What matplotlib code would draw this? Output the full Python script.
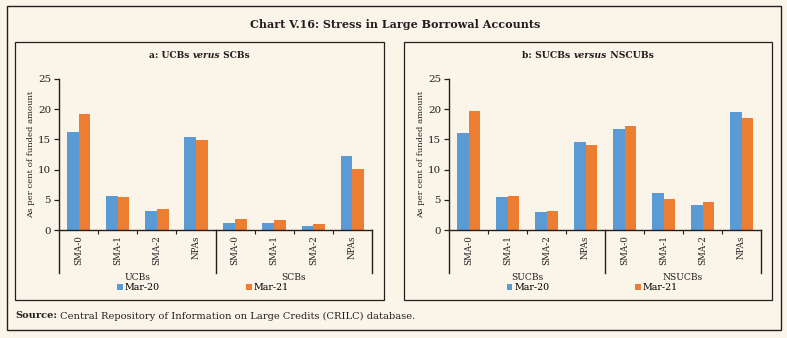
import matplotlib
matplotlib.use("Agg")
import matplotlib.pyplot as plt
import matplotlib.patches as mpatches
import matplotlib.transforms as mtransforms
import numpy as np

# ---------------- data ----------------
categories = ["SMA-0", "SMA-1", "SMA-2", "NPAs"]
series_names = ["Mar-20", "Mar-21"]

groups_a = ["UCBs", "SCBs"]
ucbs_mar20 = [16.2, 5.6, 3.2, 15.4]
ucbs_mar21 = [19.2, 5.5, 3.4, 14.9]
scbs_mar20 = [1.2, 1.1, 0.7, 12.2]
scbs_mar21 = [1.9, 1.6, 1.0, 10.1]

groups_b = ["SUCBs", "NSUCBs"]
sucbs_mar20 = [16.1, 5.5, 3.0, 14.5]
sucbs_mar21 = [19.7, 5.6, 3.1, 14.1]
nsucbs_mar20 = [16.7, 6.2, 4.2, 19.6]
nsucbs_mar21 = [17.3, 5.1, 4.6, 18.5]

yticks = [0, 5, 10, 15, 20, 25]

# ---------------- style ----------------
BG = "#FBF4E8"
BLUE = "#5B9BD5"
ORANGE = "#ED7D31"
INK = "#231f20"
FONT = "DejaVu Serif"
plt.rcParams["font.family"] = FONT

W, H = 787, 338
fig = plt.figure(figsize=(W / 100, H / 100), dpi=100, facecolor=BG)


def fx(x):
    return x / W


def fy(y):
    return 1 - y / H


def rect(x0, y0, x1, y1, lw=1.0):
    fig.add_artist(mpatches.Rectangle((fx(x0), fy(y1)), fx(x1) - fx(x0), fy(y0) - fy(y1),
                                      transform=fig.transFigure, fill=False,
                                      edgecolor=INK, linewidth=lw))


rect(7, 6, 781, 330, lw=1.0)
rect(15, 42, 384, 300, lw=0.9)
rect(404, 42, 772, 300, lw=0.9)

fig.text(fx(395), fy(24), "Chart V.16: Stress in Large Borrowal Accounts",
         ha="center", va="center", fontsize=8.0, fontweight="bold", color=INK)


def rich_text(x_center, y, parts, fontsize, ha="center"):
    """parts: list of (text, weight, style); placed side by side."""
    arts = []
    for t, w, s in parts:
        arts.append(fig.text(0, fy(y), t, fontsize=fontsize, fontweight=w, fontstyle=s,
                             va="center", ha="left", color=INK))
    fig.canvas.draw()
    r = fig.canvas.get_renderer()
    widths = [a.get_window_extent(r).width for a in arts]
    total = sum(widths)
    start = x_center - total / 2 if ha == "center" else x_center
    x = start
    for a, w in zip(arts, widths):
        a.set_x(fx(x))
        x += w


def panel(left_px, top_px, right_px, bottom_px, groups, s20, s21):
    ax = fig.add_axes([fx(left_px), fy(bottom_px), fx(right_px) - fx(left_px),
                       fy(top_px) - fy(bottom_px)])
    ax.patch.set_alpha(0)
    ncat = len(categories) * len(groups)
    x = np.arange(ncat)
    v20 = np.concatenate(s20)
    v21 = np.concatenate(s21)
    bw = 0.3
    ax.bar(x - bw / 2, v20, width=bw, color=BLUE, label=series_names[0])
    ax.bar(x + bw / 2, v21, width=bw, color=ORANGE, label=series_names[1])
    ax.set_xlim(-0.5, ncat - 0.5)
    ax.set_ylim(0, 25)
    ax.set_yticks(yticks)
    ax.set_yticklabels([str(t) for t in yticks], fontsize=7.4, color=INK)
    ax.tick_params(axis="y", length=3.5, width=0.9, pad=2.2, color=INK)
    for s in ["top", "right"]:
        ax.spines[s].set_visible(False)
    for s in ["left", "bottom"]:
        ax.spines[s].set_linewidth(1.0)
        ax.spines[s].set_color(INK)
    bounds = [i + 0.5 for i in range(ncat - 1) if (i + 1) % len(categories) != 0]
    ax.set_xticks(bounds)
    ax.set_xticklabels([])
    ax.tick_params(axis="x", length=3, width=0.8, color=INK)
    ax.set_xticks(x, minor=True)
    ax.set_xticklabels(categories * len(groups), minor=True, rotation=90,
                       fontsize=6.3, color=INK)
    ax.tick_params(axis="x", which="minor", length=0, pad=4)
    trans = mtransforms.blended_transform_factory(ax.transData, ax.transAxes)
    span = bottom_px - top_px
    depth = -(273 - bottom_px) / span
    for g in range(len(groups) + 1):
        xb = g * len(categories) - 0.5
        ax.plot([xb, xb], [0, depth], color=INK, lw=1.0, transform=trans,
                clip_on=False)
    for g, name in enumerate(groups):
        xc = g * len(categories) + (len(categories) - 1) / 2
        ax.text(xc, -(277 - bottom_px) / span, name, transform=trans,
                ha="center", va="center", fontsize=6.6, color=INK)
    ax.set_ylabel("As per cent of funded amount", fontsize=6.1, color=INK,
                  labelpad=2)
    h, l = ax.get_legend_handles_labels()
    ly = -(288 - bottom_px) / span
    lx1 = (117 - 59) / 313
    lx2 = (246 - 59) / 313
    leg1 = ax.legend([h[0]], [l[0]], loc="center left", bbox_to_anchor=(lx1, ly),
                     frameon=False, fontsize=6.8, handlelength=0.6, handleheight=0.6,
                     handletextpad=0.2, borderpad=0, borderaxespad=0)
    ax.add_artist(leg1)
    ax.legend([h[1]], [l[1]], loc="center left", bbox_to_anchor=(lx2, ly),
              frameon=False, fontsize=6.8, handlelength=0.6, handleheight=0.6,
              handletextpad=0.2, borderpad=0, borderaxespad=0)
    return ax


panel(59, 79, 372, 230, groups_a, [ucbs_mar20, scbs_mar20], [ucbs_mar21, scbs_mar21])
panel(449, 79, 761, 230, groups_b, [sucbs_mar20, nsucbs_mar20], [sucbs_mar21, nsucbs_mar21])

rich_text(199.5, 55, [("a: UCBs ", "bold", "normal"), ("verus", "bold", "italic"),
                      (" SCBs", "bold", "normal")], 6.6)
rich_text(588, 55, [("b: SUCBs ", "bold", "normal"), ("versus", "bold", "italic"),
                    (" NSCUBs", "bold", "normal")], 6.7)
rich_text(15, 316, [("Source:", "bold", "normal"),
                    (" Central Repository of Information on Large Credits (CRILC) database.",
                     "normal", "normal")], 7.1, ha="left")

fig.savefig("out.png", dpi=100, facecolor=BG)
